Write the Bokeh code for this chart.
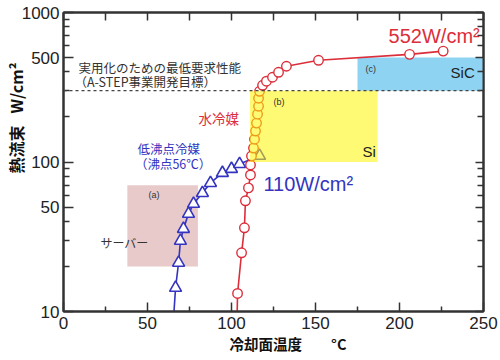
from bokeh.plotting import figure
from bokeh.models import LinearAxis, LogAxis, FixedTicker, Label, Span, Range1d
from bokeh.embed import file_html
from bokeh.resources import INLINE

# ---- data ----
# 水冷媒 (water coolant): cooling-surface temperature [°C] / heat flux [W/cm²]
water_temp = [103.3, 103.6, 106.0, 107.7, 108.3, 110.1, 111.3, 111.3, 111.9, 113.1,
              113.7, 114.3, 114.9, 115.5, 116.1, 116.1, 116.7, 118.5, 120.8, 124.4,
              128.0, 132.7, 151.8, 206.0, 226.0]
water_flux = [9.0, 13.2, 24.7, 36.3, 55.0, 67.1, 81.9, 95.5, 109.6, 124,
              142, 161, 182, 209, 236, 267, 297, 326, 347, 369,
              398, 437, 479, 525, 552]

# 低沸点冷媒 (low-boiling coolant, b.p. 56 °C)
lowbp_temp = [65.5, 66.7, 68.5, 69.6, 71.4, 74.4, 77.4, 82.7, 87.5, 94.6, 100.0, 104.8, 116.7]
lowbp_flux = [9.0, 14.4, 21.2, 29.7, 35.7, 45.0, 52.5, 62.0, 72.4, 84.5, 89.9, 97.0, 110]

# target line (A-STEP)
target_flux = 300

# regions: (a) server, (b) Si, (c) SiC  -> [x0, x1, y0, y1]
server_box = [38, 80, 20, 70]
si_box = [111, 187, 100, 300]
sic_box = [175, 250, 300, 500]

x_ticks = [0, 50, 100, 150, 200, 250]
x_minor = [25, 75, 125, 175, 225]
top_ticks = [0, 25, 50, 75, 100, 125, 150, 175, 200, 225, 250]
y_ticks = [10, 50, 100, 500, 1000]
y_minor = [20, 30, 40, 60, 70, 80, 90, 200, 300, 400, 600, 700, 800, 900]

RED = "#DC2E3A"
BLUE = "#3434C0"
AX = "#333333"
JP = "Noto Sans CJK JP"
LAT = "Liberation Sans"

p = figure(width=500, height=360, output_backend="svg", toolbar_location=None,
           x_range=Range1d(0, 250), y_range=Range1d(10, 1000), y_axis_type="log",
           min_border_left=63, min_border_right=17, min_border_top=12, min_border_bottom=49)
p.background_fill_color = "white"
p.border_fill_color = "white"
p.xgrid.visible = False
p.ygrid.visible = False
p.outline_line_color = AX
p.outline_line_width = 2


def style_axis(ax, ticks, minor, labels=True):
    ax.ticker = FixedTicker(ticks=ticks, minor_ticks=minor)
    ax.axis_line_color = AX
    ax.axis_line_width = 2
    ax.major_tick_line_color = AX
    ax.major_tick_line_width = 1.5
    ax.minor_tick_line_color = AX
    ax.minor_tick_line_width = 1.5
    ax.major_tick_in = 9
    ax.major_tick_out = 0
    ax.minor_tick_in = 5
    ax.minor_tick_out = 0
    if labels:
        ax.major_label_text_font = LAT
        ax.major_label_text_font_size = "17px"
        ax.major_label_text_color = "#222222"
    else:
        ax.major_label_overrides = {t: "" for t in ticks}
        ax.major_label_text_font_size = "1px"
        ax.major_label_standoff = 0


xa = p.xaxis[0]
style_axis(xa, x_ticks, x_minor)
xa.major_label_standoff = 5
xa.axis_label = "\u3000\u3000冷却面温度\u3000\u3000°C"
xa.axis_label_text_font = JP
xa.axis_label_text_font_size = "14.5px"
xa.axis_label_text_font_style = "bold"
xa.axis_label_text_color = "#111111"
xa.axis_label_standoff = 1

ya = p.yaxis[0]
style_axis(ya, y_ticks, y_minor)
ya.major_label_standoff = 4
ya.major_tick_in = 10
ya.minor_tick_in = 6
ya.axis_label = "\u3000\u3000\u3000\u3000\u3000\u2002熱流束\u2002\u2005W/cm²"
ya.axis_label_text_font = JP
ya.axis_label_text_font_size = "16px"
ya.axis_label_text_font_style = "bold"
ya.axis_label_text_color = "#111111"
ya.axis_label_standoff = -9

top = LinearAxis()
style_axis(top, top_ticks, [], labels=False)
top.major_tick_in = 8
p.add_layout(top, "above")
right = LogAxis()
style_axis(right, y_ticks, y_minor, labels=False)
right.major_tick_in = 8
right.minor_tick_in = 6
p.add_layout(right, "right")

# background regions
p.quad(left=[server_box[0]], right=[server_box[1]], bottom=[server_box[2]], top=[server_box[3]],
       fill_color="#E8CACA", line_color=None)
p.quad(left=[sic_box[0]], right=[sic_box[1]], bottom=[sic_box[2]], top=[sic_box[3]],
       fill_color="#8ED3F2", line_color=None)

# series
p.line(lowbp_temp, lowbp_flux, line_color=BLUE, line_width=1.6)
p.scatter(lowbp_temp, lowbp_flux, marker="triangle", size=12, line_color=BLUE,
          line_width=1.6, fill_color="white")
p.line(water_temp, water_flux, line_color=RED, line_width=1.6)
p.scatter(water_temp, water_flux, marker="circle", size=9.5, line_color=RED,
          line_width=1.4, fill_color="white")

# translucent Si region on top
p.quad(left=[si_box[0]], right=[si_box[1]], bottom=[si_box[2]], top=[si_box[3]],
       fill_color="#FFF500", fill_alpha=0.55, line_color=None)

p.add_layout(Span(location=target_flux, dimension="width", line_color="#444444",
                  line_dash="3 3", line_width=1.3))


def lab(x, y, text, size, color="#333333", font=JP, bold=False, align="left"):
    p.add_layout(Label(x=x, y=y, text=text, text_font=font, text_font_size=size,
                       text_color=color, text_align=align, text_baseline="middle",
                       text_font_style="bold" if bold else "normal"))


lab(8.9, 430, "実用化のための最低要求性能", "12.5px")
lab(6.5, 347, "（A-STEP事業開発目標）", "12.5px")
lab(80.4, 196, "水冷媒", "13.5px", color=RED)
lab(44.0, 124, "低沸点冷媒", "12.5px", color=BLUE)
lab(42.5, 97, "（沸点56℃）", "12.5px", color=BLUE)
lab(50.6, 60.3, "(a)", "9px", font=LAT)
lab(22.0, 28.8, "サーバー", "12px")
lab(125.0, 251, "(b)", "9px", font=LAT)
lab(179.8, 417, "(c)", "9px", font=LAT)
lab(178.0, 118, "Si", "15px", color="#222222", font=LAT)
lab(230.4, 398, "SiC", "15px", color="#222222", font=LAT)
lab(193.5, 692, "552W/cm²", "20px", color=RED, font=LAT)
lab(119.0, 71.3, "110W/cm²", "20px", color=BLUE, font=LAT)

open("out.html", "w").write(file_html(p, INLINE))
